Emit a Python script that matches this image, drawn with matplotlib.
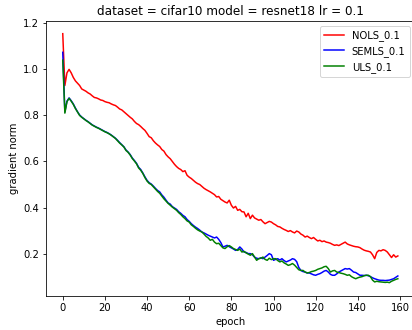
import numpy as np
import matplotlib
matplotlib.use("Agg")
import matplotlib.pyplot as plt

# gradient norm per epoch for each label-smoothing scheme
nols = [1.155, 0.93, 0.985, 1.0, 0.985, 0.965, 0.95, 0.94, 0.93, 0.915,
        0.91, 0.905, 0.898, 0.893, 0.885, 0.878, 0.876, 0.872, 0.867, 0.865,
        0.86, 0.857, 0.855, 0.85, 0.846, 0.843, 0.836, 0.828, 0.824, 0.816,
        0.808, 0.8, 0.792, 0.785, 0.774, 0.765, 0.76, 0.752, 0.743, 0.735,
        0.722, 0.708, 0.703, 0.69, 0.68, 0.672, 0.665, 0.652, 0.645, 0.63,
        0.62, 0.612, 0.6, 0.588, 0.578, 0.57, 0.565, 0.556, 0.56, 0.54,
        0.532, 0.526, 0.518, 0.51, 0.504, 0.5, 0.492, 0.484, 0.478, 0.473,
        0.468, 0.462, 0.456, 0.446, 0.448, 0.436, 0.43, 0.424, 0.42, 0.432,
        0.41, 0.398, 0.405, 0.388, 0.392, 0.382, 0.381, 0.36, 0.375, 0.352,
        0.367, 0.355, 0.35, 0.345, 0.348, 0.338, 0.33, 0.335, 0.34, 0.337,
        0.33, 0.325, 0.318, 0.316, 0.31, 0.305, 0.301, 0.296, 0.3, 0.294,
        0.29, 0.298, 0.294, 0.285, 0.28, 0.272, 0.276, 0.27, 0.265, 0.27,
        0.262, 0.255, 0.258, 0.252, 0.255, 0.25, 0.248, 0.245, 0.24, 0.236,
        0.238, 0.235, 0.24, 0.245, 0.25, 0.242, 0.238, 0.235, 0.232, 0.23,
        0.229, 0.226, 0.22, 0.215, 0.212, 0.21, 0.207, 0.195, 0.178, 0.205,
        0.214, 0.212, 0.217, 0.214, 0.207, 0.195, 0.183, 0.195, 0.185, 0.19]

semls = [1.074, 0.815, 0.862, 0.876, 0.864, 0.85, 0.832, 0.816, 0.802, 0.793,
         0.786, 0.779, 0.773, 0.766, 0.759, 0.754, 0.749, 0.745, 0.74, 0.735,
         0.73, 0.726, 0.721, 0.715, 0.708, 0.701, 0.692, 0.682, 0.673, 0.664,
         0.65, 0.641, 0.63, 0.615, 0.604, 0.592, 0.575, 0.565, 0.55, 0.533,
         0.518, 0.508, 0.502, 0.493, 0.483, 0.474, 0.468, 0.455, 0.445, 0.432,
         0.42, 0.415, 0.404, 0.398, 0.392, 0.382, 0.375, 0.366, 0.36, 0.348,
         0.34, 0.33, 0.322, 0.315, 0.309, 0.302, 0.294, 0.29, 0.285, 0.28,
         0.276, 0.272, 0.268, 0.272, 0.262, 0.248, 0.229, 0.232, 0.236, 0.23,
         0.225, 0.22, 0.214, 0.218, 0.229, 0.22, 0.207, 0.205, 0.2, 0.2,
         0.195, 0.185, 0.18, 0.178, 0.182, 0.178, 0.185, 0.192, 0.2, 0.195,
         0.171, 0.175, 0.178, 0.172, 0.178, 0.17, 0.164, 0.168, 0.172, 0.178,
         0.175, 0.165, 0.14, 0.127, 0.122, 0.12, 0.116, 0.116, 0.112, 0.108,
         0.106, 0.11, 0.113, 0.118, 0.124, 0.127, 0.12, 0.11, 0.106, 0.106,
         0.112, 0.12, 0.125, 0.13, 0.135, 0.133, 0.135, 0.128, 0.12, 0.118,
         0.112, 0.106, 0.106, 0.105, 0.106, 0.104, 0.1, 0.095, 0.091, 0.088,
         0.085, 0.084, 0.084, 0.083, 0.084, 0.085, 0.088, 0.091, 0.097, 0.103]

uls = [1.04, 0.81, 0.86, 0.874, 0.862, 0.848, 0.83, 0.815, 0.8, 0.792,
       0.785, 0.778, 0.772, 0.765, 0.758, 0.753, 0.748, 0.744, 0.739, 0.734,
       0.729, 0.725, 0.72, 0.714, 0.707, 0.7, 0.69, 0.68, 0.672, 0.663,
       0.648, 0.64, 0.628, 0.613, 0.602, 0.59, 0.572, 0.562, 0.548, 0.53,
       0.515, 0.505, 0.5, 0.49, 0.48, 0.47, 0.462, 0.45, 0.438, 0.428,
       0.418, 0.41, 0.402, 0.395, 0.388, 0.378, 0.37, 0.36, 0.352, 0.342,
       0.337, 0.325, 0.318, 0.31, 0.303, 0.298, 0.294, 0.285, 0.275, 0.268,
       0.258, 0.262, 0.25, 0.243, 0.245, 0.235, 0.225, 0.222, 0.23, 0.235,
       0.229, 0.222, 0.218, 0.214, 0.22, 0.207, 0.21, 0.203, 0.198, 0.193,
       0.2, 0.185, 0.171, 0.178, 0.18, 0.185, 0.175, 0.171, 0.18, 0.174,
       0.178, 0.178, 0.17, 0.164, 0.168, 0.16, 0.155, 0.149, 0.152, 0.157,
       0.15, 0.14, 0.13, 0.127, 0.127, 0.12, 0.116, 0.118, 0.122, 0.124,
       0.127, 0.132, 0.135, 0.138, 0.143, 0.145, 0.135, 0.12, 0.125, 0.127,
       0.12, 0.118, 0.115, 0.113, 0.11, 0.106, 0.108, 0.1, 0.095, 0.091,
       0.095, 0.098, 0.1, 0.104, 0.106, 0.106, 0.1, 0.085, 0.077, 0.08,
       0.078, 0.077, 0.076, 0.075, 0.076, 0.074, 0.08, 0.084, 0.088, 0.091]

epochs = np.arange(len(nols))

fig = plt.figure(figsize=(412 / 72, 330 / 72), dpi=72)
ax = fig.add_axes([46 / 412, 34 / 330, 368.6 / 412, 275 / 330])

ax.plot(epochs, nols, color='red', label='NOLS_0.1')
ax.plot(epochs, semls, color='blue', label='SEMLS_0.1')
ax.plot(epochs, uls, color='green', label='ULS_0.1')

ax.set_xlim(-7.95, 166.95)
ax.set_ylim(0.016, 1.21)
ax.set_title("dataset = cifar10 model = resnet18 lr = 0.1")
ax.set_xlabel("epoch")
ax.set_ylabel("gradient norm")
ax.legend(loc='upper right')

fig.savefig("out.png", dpi=72)
